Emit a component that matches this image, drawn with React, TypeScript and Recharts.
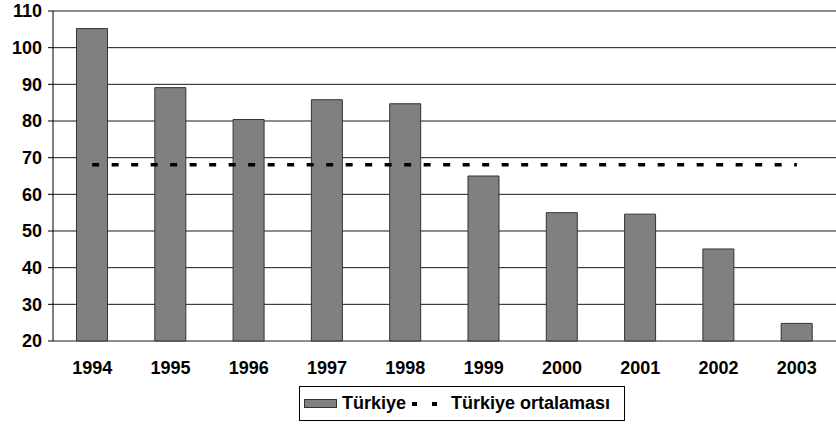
import React from 'react';
import { ComposedChart, Bar, Line, XAxis, YAxis, CartesianGrid, Legend } from 'recharts';

const years = ['1994', '1995', '1996', '1997', '1998', '1999', '2000', '2001', '2002', '2003'];
const turkiye = [105.2, 89.1, 80.4, 85.8, 84.7, 65.0, 55.0, 54.6, 45.1, 24.8];
const ortalama = [68.1, 68.1, 68.1, 68.1, 68.1, 68.1, 68.1, 68.1, 68.1, 68.1];
const yTicks = [20, 30, 40, 50, 60, 70, 80, 90, 100, 110];
const boundaryTicks = [0, 1, 2, 3, 4, 5, 6, 7, 8, 9, 10];

const data = years.map((y, i) => ({ year: y, turkiye: turkiye[i], ortalama: ortalama[i] }));

const font = 'Arial, "Liberation Sans", sans-serif';

const LegendBox = () => (
  <div
    style={{
      display: 'flex',
      alignItems: 'center',
      border: '1px solid #000',
      width: 326,
      height: 35,
      paddingLeft: 4,
      fontFamily: font,
      fontWeight: 'bold',
      fontSize: 18,
      color: '#000',
      background: '#fff',
      boxSizing: 'border-box',
      whiteSpace: 'nowrap',
    }}
  >
    <svg width={34} height={10} style={{ marginRight: 4 }}>
      <rect x={0.5} y={0.5} width={32} height={8} fill="#808080" stroke="#333" />
    </svg>
    <span>Türkiye</span>
    <svg width={45} height={10}>
      <rect x={6} y={3} width={5} height={4} fill="#000" />
      <rect x={26} y={3} width={5} height={4} fill="#000" />
    </svg>
    <span>Türkiye ortalaması</span>
  </div>
);

export default function App() {
  return (
    <div style={{ position: 'absolute', left: 0, top: 0, width: 836, height: 427, background: '#fff' }}>
      <ComposedChart
        width={836}
        height={427}
        data={data}
        barCategoryGap="30%"
        margin={{ top: 11, right: 0, bottom: 0, left: 0 }}
      >
        <CartesianGrid horizontal vertical={false} stroke="#000" strokeOpacity={0.9} />
        <XAxis
          xAxisId="b"
          type="number"
          domain={[0, 10]}
          ticks={boundaryTicks}
          allowDataOverflow
          height={0}
          tickSize={5}
          tickFormatter={() => ''}
          axisLine={{ stroke: '#000' }}
          tickLine={{ stroke: '#000' }}
        />
        <XAxis
          xAxisId="cat"
          dataKey="year"
          height={48}
          axisLine={false}
          tickLine={false}
          tickSize={0}
          tickMargin={20}
          interval={0}
          tick={{ fill: '#000', fontSize: 18, fontWeight: 'bold', fontFamily: font }}
        />
        <YAxis
          domain={[20, 110]}
          ticks={yTicks}
          width={53}
          interval={0}
          tickSize={5}
          tickMargin={6}
          axisLine={{ stroke: '#000' }}
          tickLine={{ stroke: '#000' }}
          tick={{ fill: '#000', fontSize: 18, fontWeight: 'bold', fontFamily: font }}
        />
        <Legend
          verticalAlign="bottom"
          align="left"
          height={38}
          content={() => <LegendBox />}
          wrapperStyle={{ left: 299, width: 326, bottom: 3 }}
        />
        <Bar
          xAxisId="cat"
          dataKey="turkiye"
          name="Türkiye"
          fill="#808080"
          stroke="#333"
          strokeWidth={1}
          isAnimationActive={false}
        />
        <Line
          xAxisId="cat"
          dataKey="ortalama"
          name="Türkiye ortalaması"
          type="linear"
          stroke="#000"
          strokeWidth={3.5}
          strokeDasharray="7 12.5"
          dot={false}
          activeDot={false}
          isAnimationActive={false}
        />
      </ComposedChart>
    </div>
  );
}
